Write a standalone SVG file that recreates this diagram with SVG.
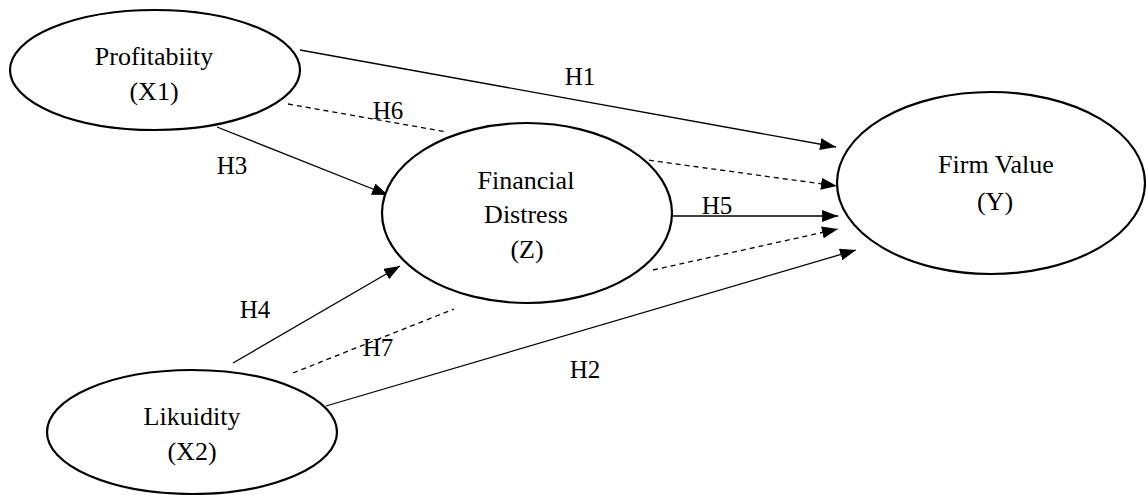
<svg xmlns="http://www.w3.org/2000/svg" width="1146" height="495" viewBox="0 0 1146 495" font-family="'Liberation Serif', 'Times New Roman', Times, serif">
<style>
.node{fill:#fff;stroke:#000;stroke-width:2.2}
.t{font-family:'Liberation Serif','Times New Roman',Times,serif;font-size:26px;fill:#000;text-anchor:middle}
.lbl{font-family:'Liberation Serif','Times New Roman',Times,serif;font-size:25px;fill:#000;text-anchor:middle}
.c{fill:none;stroke:#000;stroke-width:1.3}
.d{stroke-dasharray:5,4}
</style>
<defs>
<marker id="ah" markerUnits="userSpaceOnUse" markerWidth="17" markerHeight="13" refX="16" refY="6" orient="auto">
<path d="M0,0 L16,6 L0,12 z" fill="#000"/>
</marker>
</defs>
<rect width="1146" height="495" fill="#fff"/>
<g id="connectors">
<line class="c" x1="300" y1="50" x2="836" y2="147" marker-end="url(#ah)"/>
<line class="c d" x1="288" y1="104" x2="447" y2="132"/>
<line class="c d" x1="640" y1="159" x2="837" y2="186" marker-end="url(#ah)"/>
<line class="c" x1="217" y1="127" x2="388" y2="195" marker-end="url(#ah)"/>
<line class="c" x1="672" y1="216" x2="838" y2="216" marker-end="url(#ah)"/>
<line class="c d" x1="653" y1="270" x2="838" y2="229" marker-end="url(#ah)"/>
<line class="c" x1="326" y1="406" x2="856" y2="250" marker-end="url(#ah)"/>
<line class="c" x1="233" y1="363" x2="400" y2="266" marker-end="url(#ah)"/>
<line class="c d" x1="293" y1="373" x2="454" y2="309"/>
<text class="lbl" x="580" y="85">H1</text>
<text class="lbl" x="585" y="378">H2</text>
<text class="lbl" x="232" y="174">H3</text>
<text class="lbl" x="255" y="318">H4</text>
<text class="lbl" x="717" y="214">H5</text>
<text class="lbl" x="388" y="119">H6</text>
<text class="lbl" x="378" y="356">H7</text>
</g>
<g id="node-x1">
<ellipse class="node" cx="155" cy="70" rx="145" ry="60"/>
<text class="t" x="154" y="65">Profitabiity</text>
<text class="t" x="154" y="100">(X1)</text>
</g>
<g id="node-z">
<ellipse class="node" cx="527" cy="213" rx="145" ry="90"/>
<text class="t" x="526" y="189">Financial</text>
<text class="t" x="526" y="223">Distress</text>
<text class="t" x="527" y="258">(Z)</text>
</g>
<g id="node-y">
<ellipse class="node" cx="991" cy="183" rx="154" ry="91"/>
<text class="t" x="996" y="173">Firm Value</text>
<text class="t" x="995" y="210">(Y)</text>
</g>
<g id="node-x2">
<ellipse class="node" cx="192" cy="432" rx="145" ry="62"/>
<text class="t" x="192" y="425">Likuidity</text>
<text class="t" x="192" y="460">(X2)</text>
</g>
</svg>
